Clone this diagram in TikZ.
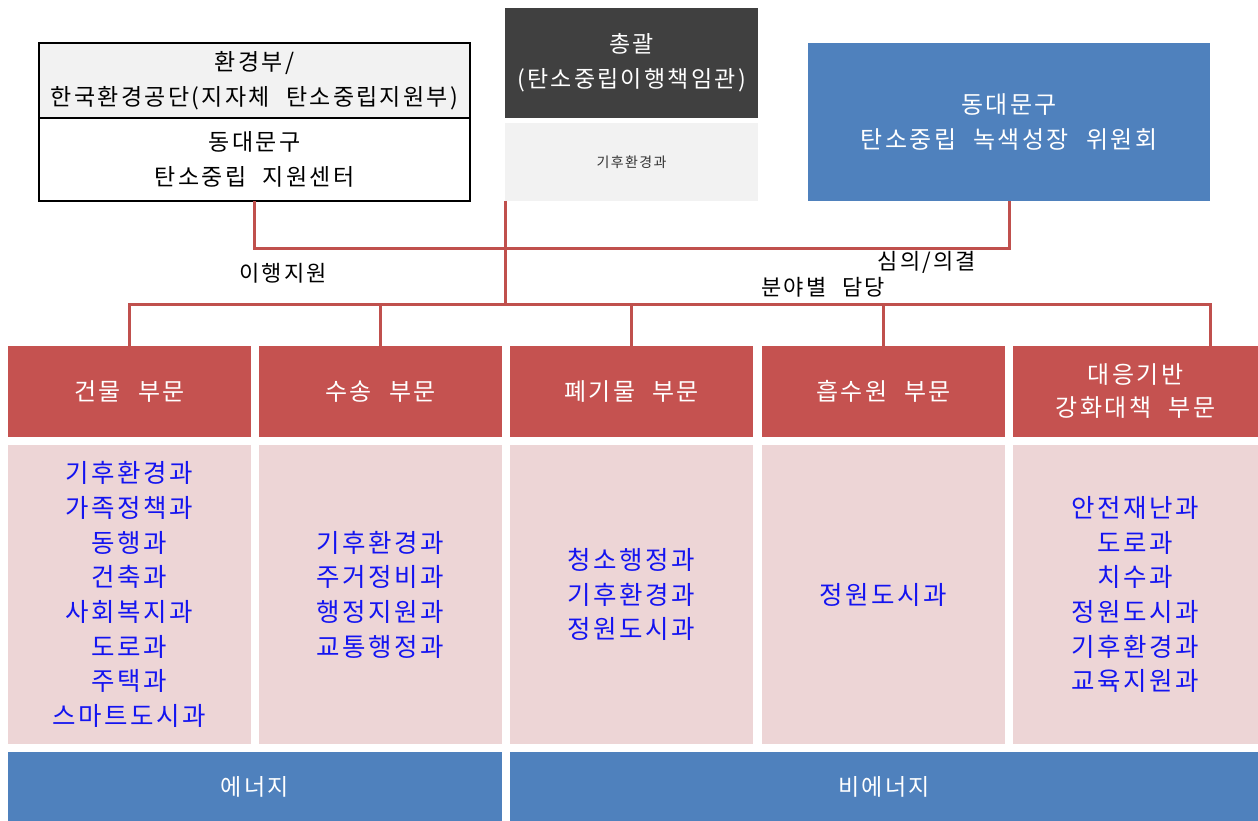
\documentclass[tikz,border=0pt]{standalone}
\usepackage{fontspec}
\setmainfont{Noto Sans CJK KR}[LetterSpace=10,WordSpace=2.2]
\definecolor{linered}{RGB}{192,80,77}
\definecolor{headred}{RGB}{197,82,80}
\definecolor{pinkfill}{RGB}{237,213,214}
\definecolor{bluefill}{RGB}{79,129,189}
\definecolor{darkfill}{RGB}{64,64,64}
\definecolor{grayfill}{RGB}{242,242,242}
\definecolor{listblue}{RGB}{20,20,240}
\tikzset{
  box/.style={rectangle, inner sep=0pt, outer sep=0pt, align=center},
  big/.style={font=\fontsize{23}{35}\selectfont},
  head/.style={box, fill=headred, text=white, minimum height=91pt, font=\fontsize{24}{33}\selectfont},
  listbox/.style={box, fill=pinkfill, text=listblue, minimum height=299pt, font=\fontsize{25.5}{34.7}\selectfont},
  foot/.style={box, fill=bluefill, text=white, minimum height=69pt, font=\fontsize{23}{30}\selectfont},
  conn/.style={draw=linered, line width=3pt},
  lbl/.style={inner sep=0pt, font=\fontsize{22}{25}\selectfont},
}
\begin{document}
\begin{tikzpicture}[x=1pt,y=-1pt]
\useasboundingbox (0,0) rectangle (1258,821);
% top boxes
\node[box, big, draw=black, line width=1.2pt, fill=grayfill, minimum width=431pt, minimum height=75pt] (envA) at (254.5,80.5) {환경부/\\한국환경공단(지자체 탄소중립지원부)};
\node[box, big, draw=black, line width=1.2pt, fill=white, minimum width=431pt, minimum height=83pt] (envB) at (254.5,159.5) {동대문구\\탄소중립 지원센터};
\node[box, big, fill=darkfill, text=white, minimum width=253pt, minimum height=110pt] (chief) at (631.5,63) {총괄\\(탄소중립이행책임관)};
\node[box, fill=grayfill, text=black!80, minimum width=253pt, minimum height=78pt, font=\fontsize{14}{16}\selectfont] (climate) at (631.5,162) {기후환경과};
\node[box, fill=bluefill, text=white, minimum width=402pt, minimum height=158pt, font=\fontsize{24}{35}\selectfont] (comm) at (1009,122) {동대문구\\탄소중립 녹색성장 위원회};
% headers
\node[head, minimum width=243pt] (h1) at (129.5,391.5) {건물 부문};
\node[head, minimum width=243pt] (h2) at (380.5,391.5) {수송 부문};
\node[head, minimum width=243pt] (h3) at (631.5,391.5) {폐기물 부문};
\node[head, minimum width=243pt] (h4) at (883.5,391.5) {흡수원 부문};
\node[head, minimum width=245pt] (h5) at (1135.5,391.5) {대응기반\\강화대책 부문};
% lists
\node[listbox, minimum width=243pt] (l1) at (129.5,594.5) {기후환경과\\가족정책과\\동행과\\건축과\\사회복지과\\도로과\\주택과\\스마트도시과};
\node[listbox, minimum width=243pt] (l2) at (380.5,594.5) {기후환경과\\주거정비과\\행정지원과\\교통행정과};
\node[listbox, minimum width=243pt] (l3) at (631.5,594.5) {청소행정과\\기후환경과\\정원도시과};
\node[listbox, minimum width=243pt] (l4) at (883.5,594.5) {정원도시과};
\node[listbox, minimum width=245pt] (l5) at (1135.5,594.5) {안전재난과\\도로과\\치수과\\정원도시과\\기후환경과\\교육지원과};
% footers
\node[foot, minimum width=494pt] (energy) at (255,786.5) {에너지};
\node[foot, minimum width=748pt] (nonenergy) at (884,786.5) {비에너지};
% connectors
\coordinate (bus) at (0,304);
\coordinate (b5) at (comm.east |- h5.north);
\draw[conn] (envB.south) -- ++(0,47) -| (comm.south);
\draw[conn] (climate.south west) -- (climate.south west |- bus);
\draw[conn] (h1.north) -- (h1.north |- bus) -| (b5);
\draw[conn] (h2.north) -- (h2.north |- bus);
\draw[conn] (h3.north) -- (h3.north |- bus);
\draw[conn] (h4.north) -- (h4.north |- bus);
% labels
\node[lbl] (lblA) at (283,273) {이행지원};
\node[lbl] (lblB) at (927,262) {심의/의결};
\node[lbl] (lblC) at (823,287) {분야별 담당};
\end{tikzpicture}
\end{document}
